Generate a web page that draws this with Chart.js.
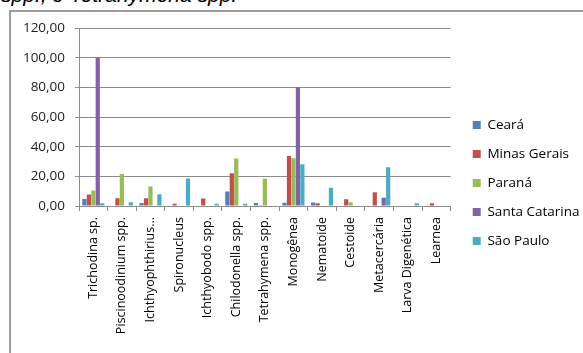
<!DOCTYPE html>
<html>
<head>
<meta charset="utf-8">
<script src="https://cdn.jsdelivr.net/npm/chart.js@4"></script>
<style>
  html, body { margin: 0; padding: 0; background: #fff; }
  body { width: 583px; height: 353px; position: relative; overflow: hidden; }
  #caption {
    position: absolute; left: 1px; top: -15px;
    font: italic 21px "Liberation Sans", Arial, sans-serif; line-height: 20px;
    color: #000; white-space: nowrap;
  }
  #frame {
    position: absolute; left: 9px; top: 10px; width: 600px; height: 400px;
    border: 2px solid #9d9d9d; box-sizing: border-box;
  }
  #wrap { position: absolute; left: 0; top: 0; width: 583px; height: 353px; }
</style>
</head>
<body>
<div id="caption">spp., e Tetrahymena spp.</div>
<div id="frame"></div>
<div id="wrap"><canvas id="myChart"></canvas></div>
<script>
// categories and values
const categories = ['Trichodina sp.', 'Piscinoodinium spp.', 'Ichthyophthirius...', 'Spironucleus',
    'Ichthyobodo spp.', 'Chilodonella spp.', 'Tetrahymena spp.', 'Monogênea', 'Nematoide',
    'Cestoide', 'Metacercária', 'Larva Digenética', 'Learnea'];
const ceara = [4.8, 0, 2.0, 0, 0, 9.7, 2.0, 2.2, 2.3, 0, 0, 0, 0];
const minasGerais = [7.8, 5.3, 5.2, 1.6, 5.0, 22.0, 0.5, 33.7, 1.8, 4.5, 9.2, 0, 1.8];
const parana = [10.5, 21.5, 13.2, 0, 0, 32.0, 18.4, 32.2, 0, 2.5, 0, 0, 0];
const santaCatarina = [100, 0, 0, 0, 0, 0, 0, 80, 0, 0, 5.6, 0, 0];
const saoPaulo = [1.8, 2.5, 7.9, 18.5, 1.5, 1.6, 0, 28.1, 12.3, 0, 26.1, 1.8, 0];
const yTicks = [0, 20, 40, 60, 80, 100, 120];

const colorOne = '#4F81BD';
const colorTwo = '#C0504D';
const colorThree = '#9BBB59';
const colorFour = '#8064A2';
const colorFive = '#4BACC6';
const gridColor = '#8c8c8c';

var ctx = document.getElementById('myChart');
ctx.width = 583;
ctx.height = 353;

var data = {
    labels: categories,
    datasets: [
        { label: 'Ceará', data: ceara, backgroundColor: colorOne },
        { label: 'Minas Gerais', data: minasGerais, backgroundColor: colorTwo },
        { label: 'Paraná', data: parana, backgroundColor: colorThree },
        { label: 'Santa Catarina', data: santaCatarina, backgroundColor: colorFour },
        { label: 'São Paulo', data: saoPaulo, backgroundColor: colorFive }
    ]
};

// push the legend a little away from the plot, like the excel one
const legendNudge = {
    id: 'legendNudge',
    afterLayout: function (chart) {
        chart.legend.left += 6.5;
        chart.legend.right += 6.5;
    }
};

var barChart = new Chart(ctx, {
    type: 'bar',
    data: data,
    plugins: [legendNudge],
    options: {
        responsive: false,
        animation: false,
        maintainAspectRatio: false,
        datasets: { bar: { categoryPercentage: 0.78, barPercentage: 0.95, borderWidth: 0 } },
        layout: { padding: { left: 9, top: 28, right: 0, bottom: 15 } },
        plugins: {
            tooltip: { enabled: false },
            legend: {
                position: 'right',
                labels: {
                    boxWidth: 8, boxHeight: 8, padding: 15.5, color: '#000',
                    font: { family: 'Open Sans', size: 13.5 }
                }
            }
        },
        scales: {
            x: {
                grid: { display: true, drawOnChartArea: false, color: gridColor, tickLength: 5, offset: true },
                border: { color: gridColor },
                ticks: {
                    autoSkip: false, minRotation: 90, maxRotation: 90, padding: 6, color: '#000',
                    font: { family: 'Open Sans', size: 12.5 }
                },
                afterFit: function (s) { s.height = 132; }
            },
            y: {
                min: 0, max: 120,
                grid: { color: gridColor, tickLength: 4 },
                border: { color: gridColor },
                afterBuildTicks: function (s) { s.ticks = yTicks.map(v => ({ value: v })); },
                ticks: {
                    padding: 10, color: '#222',
                    font: { family: 'Open Sans', size: 13.5 },
                    callback: v => v.toFixed(2).replace('.', ',')
                },
                afterFit: function (s) { s.width = 70; }
            }
        }
    }
});
</script>
</body>
</html>
